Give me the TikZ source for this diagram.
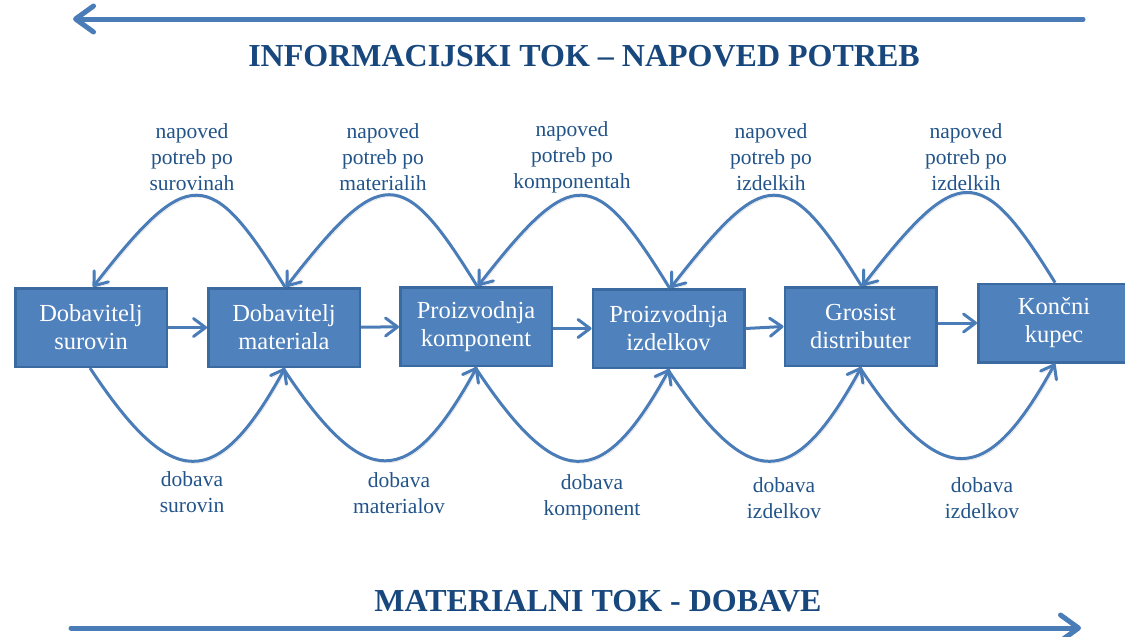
\documentclass[tikz,border=0pt]{standalone}
\usepackage{fontspec}
\setmainfont{Liberation Serif}
\usetikzlibrary{arrows.meta,shadows}
\definecolor{boxfill}{HTML}{4F81BD}
\definecolor{boxline}{HTML}{3A6A9F}
\definecolor{flow}{HTML}{4A7CB8}
\definecolor{titleblue}{HTML}{17477C}
\definecolor{labelblue}{HTML}{22548A}

\begin{document}
\begin{tikzpicture}[x=1pt,y=-1pt,
  stage/.style={draw=boxline, line width=2.5pt, fill=boxfill,
    minimum width=151.5pt, minimum height=78.5pt, inner sep=0pt,
    text=white, align=center, font=\fontsize{24.5}{28}\selectfont,
    drop shadow={opacity=0.25, shadow xshift=1.5pt, shadow yshift=-1.5pt}},
  lbl/.style={text=labelblue, align=center, inner sep=0pt,
    font=\fontsize{21.5}{26}\selectfont},
  ttl/.style={text=titleblue, inner sep=0pt, font=\fontsize{32}{36}\selectfont\bfseries},
  soft/.style={preaction={draw=black, draw opacity=0.15,
    transform canvas={shift={(1.5pt,-2pt)}}}},
  link/.style={draw=flow, line width=3pt,
    -{Straight Barb[length=12pt,width=18pt,round]}},
  arc/.style={link, soft},
  bigflow/.style={draw=flow, line width=5pt, line cap=round, soft,
    -{Straight Barb[length=18pt,width=26pt,round]}}
]
\useasboundingbox (0,0) rectangle (1125,637);

% information flow (top) and material flow (bottom)
\coordinate (infoA) at (1083,19);
\coordinate (infoB) at (73,19);
\coordinate (matA) at (71,628);
\coordinate (matB) at (1081,628);
\draw[bigflow] (infoA) -- (infoB);
\draw[bigflow] (matA) -- (matB);

\node[ttl] (infoT) at (584,56) {INFORMACIJSKI TOK – NAPOVED POTREB};
\node[ttl] (matT) at (598,601) {MATERIALNI TOK - DOBAVE};

% supply chain stages
\node[stage] (b1) at (91,327.5) {Dobavitelj\\surovin};
\node[stage] (b2) at (284,327.5) {Dobavitelj\\materiala};
\node[stage] (b3) at (476,326.5) {Proizvodnja\\komponent};
\node[stage] (b4) at (668.5,328.5) {Proizvodnja\\izdelkov};
\node[stage] (b5) at (860.5,326.5) {Grosist\\distributer};
\node[stage] (b6) at (1054,323) {Končni\\kupec};

\draw[link] (b1) -- (b2);
\draw[link] (b2) -- (b3);
\draw[link] (b3.east |- b4.west) -- (b4.west);
\draw[link] (b4.east) -- (b5.west);
\draw[link] (b5.east |- b6.west) -- (b6.west);

% forecasts passed upstream, deliveries passed downstream
\foreach \a/\b in {b1/b2,b2/b3,b3/b4,b4/b5,b5/b6}{
  \draw[arc] ([xshift=1pt]\b.north) .. controls +(-75,-122) and +(95,-122) .. ([xshift=2pt]\a.north);
  \draw[arc] ([xshift=-1pt]\a.south) .. controls +(82,124) and +(-68,124) .. ([xshift=1pt]\b.south);
}

% forecast labels
\node[lbl] (f1) at (192,157) {napoved\\potreb po\\surovinah};
\node[lbl] (f2) at (383,157) {napoved\\potreb po\\materialih};
\node[lbl] (f3) at (572,157) {napoved\\potreb po\\komponentah};
\node[lbl] (f4) at (771,157) {napoved\\potreb po\\izdelkih};
\node[lbl] (f5) at (966,157) {napoved\\potreb po\\izdelkih};

% delivery labels
\node[lbl] (d1) at (192,492) {dobava\\surovin};
\node[lbl] (d2) at (399,493) {dobava\\materialov};
\node[lbl] (d3) at (592,497) {dobava\\komponent};
\node[lbl] (d4) at (784,498) {dobava\\izdelkov};
\node[lbl] (d5) at (982,498) {dobava\\izdelkov};
\end{tikzpicture}
\end{document}
